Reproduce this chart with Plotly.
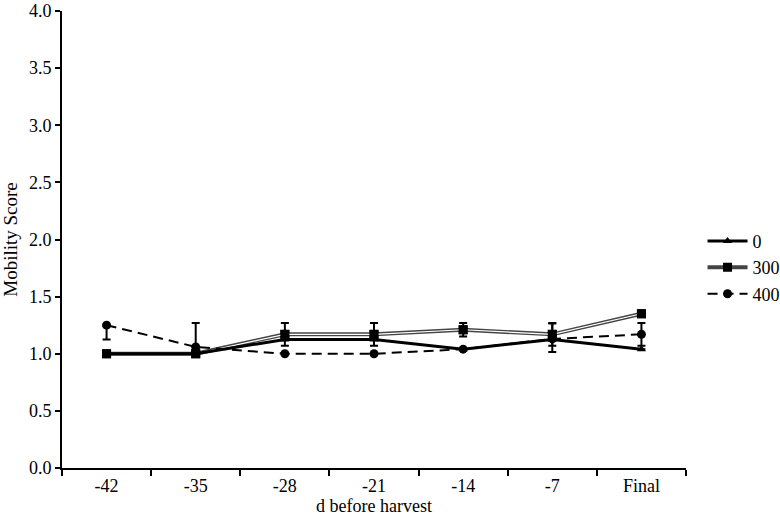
import plotly.graph_objects as go

# mobility score by day before harvest
days = ['-42', '-35', '-28', '-21', '-14', '-7', 'Final']

s0 = [1.0, 1.0, 1.125, 1.125, 1.04, 1.125, 1.04]
s300 = [1.0, 1.0, 1.17, 1.17, 1.21, 1.17, 1.35]
s400 = [1.25, 1.06, 1.0, 1.0, 1.04, 1.13, 1.17]

# error bars (upper / lower)
err0_up = [0, 0, 0, 0, 0, 0.14, 0]
err0_dn = [0, 0, 0, 0, 0, 0.11, 0]
err300_up = [0, 0, 0.1, 0.1, 0.06, 0.1, 0]
err300_dn = [0, 0, 0.1, 0.1, 0.06, 0.1, 0]
err400_up = [0, 0.21, 0, 0, 0, 0, 0.1]
err400_dn = [0.125, 0.06, 0, 0, 0, 0, 0.1]

FONT = 'Liberation Serif'

fig = go.Figure()

# 300: double line (dark stroke with a white core)
fig.add_trace(go.Scatter(
    x=days, y=s300, name='300', mode='lines+markers', legendrank=2,
    line=dict(color='#444444', width=4),
    marker=dict(symbol='square', size=9, color='black'),
    error_y=dict(type='data', array=err300_up, arrayminus=err300_dn,
                 color='black', thickness=2, width=4),
))
fig.add_trace(go.Scatter(
    x=days, y=s300, mode='lines', showlegend=False, hoverinfo='skip',
    line=dict(color='white', width=1.2),
))
fig.add_trace(go.Scatter(
    x=days, y=s300, mode='markers', showlegend=False, hoverinfo='skip',
    marker=dict(symbol='square', size=9, color='black'),
))

fig.add_trace(go.Scatter(
    x=days, y=s400, name='400', mode='lines+markers', legendrank=3,
    line=dict(color='black', width=2, dash='10px,6px'),
    marker=dict(symbol='circle', size=9, color='black'),
    error_y=dict(type='data', array=err400_up, arrayminus=err400_dn,
                 color='black', thickness=2, width=4),
))

fig.add_trace(go.Scatter(
    x=days, y=s0, name='0', mode='lines+markers', legendrank=1,
    line=dict(color='black', width=3),
    marker=dict(symbol='triangle-up', size=8, color='black'),
    error_y=dict(type='data', array=err0_up, arrayminus=err0_dn,
                 color='black', thickness=2, width=4),
))

fig.update_layout(
    width=780, height=527,
    margin=dict(l=62, r=94, t=11, b=59, autoexpand=False),
    plot_bgcolor='white', paper_bgcolor='white',
    font=dict(family=FONT, size=18, color='black'),
    legend=dict(xref='container', yref='container', x=0.9007, y=0.492,
                xanchor='left', yanchor='middle',
                font=dict(size=18), tracegroupgap=0, itemwidth=40),
    showlegend=True,
)
fig.update_xaxes(
    type='category', range=[-0.5, len(days) - 0.5],
    tickson='boundaries', ticks='outside', ticklen=6,
    tickwidth=2, tickcolor='black', showline=True, linewidth=2,
    linecolor='black', showgrid=False, zeroline=False, automargin=False,
    tickfont=dict(size=18),
    title=dict(text='d before harvest', standoff=4, font=dict(size=18)),
)
fig.update_yaxes(
    range=[0, 4], dtick=0.5, tickformat='.1f', ticks='outside', ticklen=5,
    tickwidth=2, tickcolor='black', showline=True, linewidth=2,
    linecolor='black', showgrid=False, zeroline=False, automargin=False,
    tickfont=dict(size=18), ticklabeloverflow='allow',
    title=dict(text='Mobility Score', standoff=8, font=dict(size=19)),
)

# drop the default 8px page margin so the figure fills the window
fig.write_html("out.html", config={'displayModeBar': False},
               post_script="document.body.style.margin='0';")
